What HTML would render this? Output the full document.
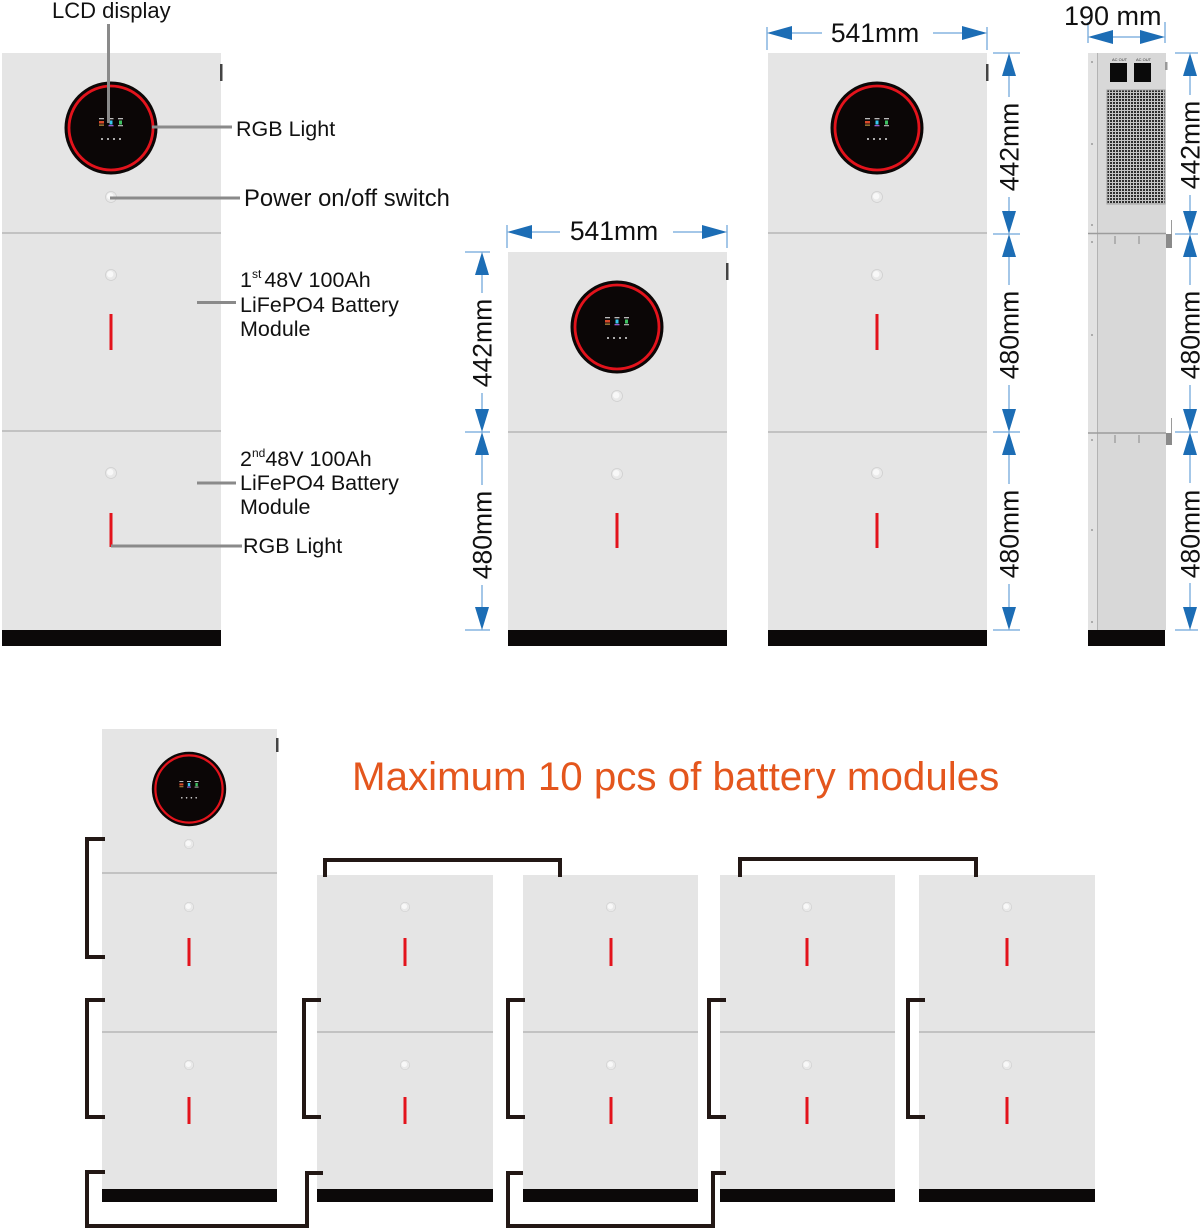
<!DOCTYPE html>
<html><head><meta charset="utf-8"><style>
html,body{margin:0;padding:0;background:#fff;}
svg{display:block;}
text{font-family:"Liberation Sans",Arial,sans-serif;}
</style></head><body>
<svg width="1200" height="1229" viewBox="0 0 1200 1229" xmlns="http://www.w3.org/2000/svg">
<defs>
  <g id="lcd">
    <circle r="46.5" fill="#0b0606"/>
    <circle r="42" fill="none" stroke="#e3131c" stroke-width="2.8"/>
    <rect x="-12" y="-10" width="5" height="1.3" fill="#bbb"/>
    <rect x="-12" y="-7" width="5" height="2.5" fill="#d84a2a"/>
    <rect x="-12" y="-3.5" width="5" height="1.3" fill="#b08a40"/>
    <rect x="-2.5" y="-10" width="5" height="1.3" fill="#bbb"/>
    <rect x="-1.5" y="-7.5" width="3" height="4" fill="#35c8f0"/>
    <rect x="-2.5" y="-3" width="5" height="1.3" fill="#9a60d0"/>
    <rect x="7" y="-10" width="5" height="1.3" fill="#bbb"/>
    <rect x="8" y="-7.5" width="3" height="4" fill="#3ec060"/>
    <rect x="7" y="-3" width="5" height="1.3" fill="#aaa"/>
    <circle cx="-9" cy="11" r="1" fill="#ddd"/>
    <circle cx="-3" cy="11" r="1" fill="#ddd"/>
    <circle cx="3" cy="11" r="1" fill="#ddd"/>
    <circle cx="9" cy="11" r="1" fill="#ddd"/>
  </g>
  <g id="btn">
    <circle r="5.5" fill="#e9e9e9" stroke="#cfcfcf" stroke-width="0.8"/>
    <circle cx="-0.8" cy="-0.8" r="3.2" fill="#f8f8f8"/>
  </g>
  <pattern id="mesh" width="3" height="3" patternUnits="userSpaceOnUse">
    <rect width="3" height="3" fill="#c4c4c4"/>
    <rect width="2" height="2" fill="#2e2e2e"/>
  </pattern>
</defs>

<!-- ========== UNIT 1 (labelled) ========== -->
<rect x="2" y="53" width="219" height="577" fill="#e5e5e5"/>
<rect x="2" y="630" width="219" height="16" fill="#0c0909"/>
<line x1="2" y1="233" x2="221" y2="233" stroke="#b6b6b6" stroke-width="1.6"/>
<line x1="2" y1="431" x2="221" y2="431" stroke="#b6b6b6" stroke-width="1.6"/>
<rect x="220" y="64" width="2.5" height="17" fill="#444"/>
<use href="#lcd" transform="translate(111,128)"/>
<use href="#btn" transform="translate(111,197)"/>
<use href="#btn" transform="translate(111,275)"/>
<use href="#btn" transform="translate(111,473)"/>
<line x1="111" y1="314" x2="111" y2="350" stroke="#e3131c" stroke-width="3"/>
<line x1="111" y1="513" x2="111" y2="547" stroke="#e3131c" stroke-width="3"/>

<!-- leaders -->
<g stroke="#8a8a8a" stroke-width="3">
  <line x1="108.5" y1="24" x2="108.5" y2="123"/>
  <line x1="152" y1="127" x2="232" y2="127"/>
  <line x1="110" y1="198" x2="240" y2="198"/>
  <line x1="197" y1="302.5" x2="236" y2="302.5"/>
  <line x1="197" y1="483" x2="236" y2="483"/>
  <line x1="111" y1="546" x2="242" y2="546"/>
</g>
<g fill="#111">
  <text x="52" y="18" font-size="22">LCD display</text>
  <text x="236" y="136" font-size="21.5">RGB Light</text>
  <text x="244" y="206" font-size="23.8">Power on/off switch</text>
  <text x="240" y="287" font-size="21.5">1<tspan font-size="12" dy="-9">st</tspan><tspan dy="9" dx="3">48V 100Ah</tspan></text>
  <text x="240" y="312" font-size="21.5">LiFePO4 Battery</text>
  <text x="240" y="336" font-size="21.5">Module</text>
  <text x="240" y="466" font-size="21.5">2<tspan font-size="12" dy="-9">nd</tspan><tspan dy="9">48V 100Ah</tspan></text>
  <text x="240" y="490" font-size="21.5">LiFePO4 Battery</text>
  <text x="240" y="514" font-size="21.5">Module</text>
  <text x="243" y="553" font-size="21.5">RGB Light</text>
</g>

<!-- ========== UNIT 2 (middle, short) ========== -->
<rect x="508" y="252" width="219" height="378" fill="#e5e5e5"/>
<rect x="508" y="630" width="219" height="16" fill="#0c0909"/>
<line x1="508" y1="432" x2="727" y2="432" stroke="#b6b6b6" stroke-width="1.6"/>
<rect x="726" y="263" width="2.5" height="17" fill="#444"/>
<use href="#lcd" transform="translate(617,327)"/>
<use href="#btn" transform="translate(617,396)"/>
<use href="#btn" transform="translate(617,474)"/>
<line x1="617" y1="513" x2="617" y2="548" stroke="#e3131c" stroke-width="3"/>

<!-- ========== UNIT 3 (right front) ========== -->
<rect x="768" y="53" width="219" height="577" fill="#e5e5e5"/>
<rect x="768" y="630" width="219" height="16" fill="#0c0909"/>
<line x1="768" y1="233" x2="987" y2="233" stroke="#b6b6b6" stroke-width="1.6"/>
<line x1="768" y1="432" x2="987" y2="432" stroke="#b6b6b6" stroke-width="1.6"/>
<rect x="986" y="64" width="2.5" height="17" fill="#444"/>
<use href="#lcd" transform="translate(877,128)"/>
<use href="#btn" transform="translate(877,197)"/>
<use href="#btn" transform="translate(877,275)"/>
<use href="#btn" transform="translate(877,473)"/>
<line x1="877" y1="314" x2="877" y2="350" stroke="#e3131c" stroke-width="3"/>
<line x1="877" y1="513" x2="877" y2="548" stroke="#e3131c" stroke-width="3"/>

<!-- ========== SIDE VIEW ========== -->
<rect x="1088" y="53" width="78" height="577" fill="#d8d8d8"/>
<rect x="1088" y="53" width="9" height="577" fill="#e2e2e2"/>
<line x1="1097.5" y1="53" x2="1097.5" y2="630" stroke="#b3b3b3" stroke-width="1"/>
<g fill="#9a9a9a">
  <circle cx="1092" cy="62" r="1"/><circle cx="1092" cy="144" r="1"/>
  <circle cx="1092" cy="225" r="1"/><circle cx="1092" cy="242" r="1"/>
  <circle cx="1092" cy="335" r="1"/><circle cx="1092" cy="440" r="1"/>
  <circle cx="1092" cy="530" r="1"/><circle cx="1092" cy="622" r="1"/>
</g>
<rect x="1110" y="63" width="17" height="19" fill="#0a0a0a"/>
<rect x="1134" y="63" width="17" height="19" fill="#0a0a0a"/>
<text x="1112" y="61" font-size="4" fill="#333">AC OUT</text>
<text x="1136" y="61" font-size="4" fill="#333">AC OUT</text>
<rect x="1107" y="90" width="58" height="114" fill="url(#mesh)" stroke="#a0a0a0" stroke-width="1"/>
<rect x="1165" y="62" width="2.5" height="8" fill="#999"/>
<line x1="1088" y1="233.5" x2="1166" y2="233.5" stroke="#9c9c9c" stroke-width="1.5"/>
<line x1="1088" y1="433" x2="1166" y2="433" stroke="#9c9c9c" stroke-width="1.5"/>
<g fill="#b0b0b0">
  <rect x="1114" y="236" width="2" height="8"/><rect x="1138" y="236" width="2" height="8"/>
  <rect x="1114" y="435" width="2" height="8"/><rect x="1138" y="435" width="2" height="8"/>
</g>
<rect x="1166" y="234" width="6" height="14" fill="#8a8a8a"/>
<line x1="1171.5" y1="220" x2="1171.5" y2="234" stroke="#9a9a9a" stroke-width="1"/>
<rect x="1166" y="433" width="6" height="12" fill="#8a8a8a"/>
<line x1="1171.5" y1="418" x2="1171.5" y2="433" stroke="#9a9a9a" stroke-width="1"/>
<rect x="1088" y="630" width="77" height="16" fill="#0c0909"/>

<!-- ========== DIMENSIONS ========== -->
<g stroke="#4a8fd0" stroke-width="1" fill="none">
  <line x1="507" y1="225" x2="507" y2="248"/><line x1="727" y1="225" x2="727" y2="248"/>
  <line x1="530" y1="232" x2="560" y2="232"/><line x1="673" y1="232" x2="704" y2="232"/>
  <line x1="767" y1="27" x2="767" y2="50"/><line x1="987" y1="27" x2="987" y2="50"/>
  <line x1="791" y1="33" x2="822" y2="33"/><line x1="933" y1="33" x2="963" y2="33"/>
  <line x1="1088" y1="22" x2="1088" y2="43"/><line x1="1165" y1="22" x2="1165" y2="43"/>
  <line x1="1112" y1="37" x2="1141" y2="37"/>
  <line x1="465" y1="252" x2="490" y2="252"/><line x1="465" y1="432" x2="490" y2="432"/><line x1="465" y1="630" x2="490" y2="630"/>
  <line x1="482" y1="274" x2="482" y2="293"/><line x1="482" y1="393" x2="482" y2="410"/>
  <line x1="482" y1="454" x2="482" y2="485"/><line x1="482" y1="585" x2="482" y2="608"/>
  <line x1="993" y1="53" x2="1020" y2="53"/><line x1="993" y1="234" x2="1020" y2="234"/>
  <line x1="993" y1="432" x2="1020" y2="432"/><line x1="993" y1="630" x2="1020" y2="630"/>
  <line x1="1009" y1="75" x2="1009" y2="97"/><line x1="1009" y1="197" x2="1009" y2="212"/>
  <line x1="1009" y1="256" x2="1009" y2="285"/><line x1="1009" y1="385" x2="1009" y2="410"/>
  <line x1="1009" y1="454" x2="1009" y2="484"/><line x1="1009" y1="584" x2="1009" y2="608"/>
  <line x1="1175" y1="53" x2="1198" y2="53"/><line x1="1175" y1="234" x2="1198" y2="234"/>
  <line x1="1175" y1="432" x2="1198" y2="432"/><line x1="1175" y1="630" x2="1198" y2="630"/>
  <line x1="1190" y1="75" x2="1190" y2="95"/><line x1="1190" y1="195" x2="1190" y2="212"/>
  <line x1="1190" y1="256" x2="1190" y2="285"/><line x1="1190" y1="385" x2="1190" y2="410"/>
  <line x1="1190" y1="454" x2="1190" y2="483"/><line x1="1190" y1="583" x2="1190" y2="608"/>
</g>
<g fill="#1c6db5">
  <polygon points="507,232 532,225 532,239"/><polygon points="727,232 702,225 702,239"/>
  <polygon points="767,33 792,26 792,40"/><polygon points="987,33 962,26 962,40"/>
  <polygon points="1088,37 1113,30 1113,44"/><polygon points="1165,37 1140,30 1140,44"/>
  <polygon points="482,252 475,275 489,275"/><polygon points="482,432 475,409 489,409"/>
  <polygon points="482,432 475,455 489,455"/><polygon points="482,630 475,607 489,607"/>
  <polygon points="1009,53 1002,76 1016,76"/><polygon points="1009,234 1002,211 1016,211"/>
  <polygon points="1009,234 1002,257 1016,257"/><polygon points="1009,432 1002,409 1016,409"/>
  <polygon points="1009,432 1002,455 1016,455"/><polygon points="1009,630 1002,607 1016,607"/>
  <polygon points="1190,53 1183,76 1197,76"/><polygon points="1190,234 1183,211 1197,211"/>
  <polygon points="1190,234 1183,257 1197,257"/><polygon points="1190,432 1183,409 1197,409"/>
  <polygon points="1190,432 1183,455 1197,455"/><polygon points="1190,630 1183,607 1197,607"/>
</g>
<g fill="#111" font-size="26.5">
  <text x="614" y="240" text-anchor="middle">541mm</text>
  <text x="875" y="42" text-anchor="middle">541mm</text>
  <text x="1064" y="25" font-size="27">190 mm</text>
  <text transform="translate(482,343) rotate(-90)" y="9.5" text-anchor="middle">442mm</text>
  <text transform="translate(482,535) rotate(-90)" y="9.5" text-anchor="middle">480mm</text>
  <text transform="translate(1009,147) rotate(-90)" y="9.5" text-anchor="middle">442mm</text>
  <text transform="translate(1009,335) rotate(-90)" y="9.5" text-anchor="middle">480mm</text>
  <text transform="translate(1009,534) rotate(-90)" y="9.5" text-anchor="middle">480mm</text>
  <text transform="translate(1190,145) rotate(-90)" y="9.5" text-anchor="middle">442mm</text>
  <text transform="translate(1190,335) rotate(-90)" y="9.5" text-anchor="middle">480mm</text>
  <text transform="translate(1190,534) rotate(-90)" y="9.5" text-anchor="middle">480mm</text>
</g>

<!-- ========== BOTTOM SECTION ========== -->
<text x="352" y="790" font-size="40.3" fill="#e4561d">Maximum 10 pcs of battery modules</text>

<rect x="102" y="729" width="175" height="460" fill="#e5e5e5"/>
<rect x="102" y="1189" width="175" height="13" fill="#0c0909"/>
<line x1="102" y1="873" x2="277" y2="873" stroke="#b6b6b6" stroke-width="1.5"/>
<line x1="102" y1="1032" x2="277" y2="1032" stroke="#b6b6b6" stroke-width="1.5"/>
<rect x="276" y="738" width="2.5" height="14" fill="#444"/>
<use href="#lcd" transform="translate(189,789) scale(0.8)"/>
<use href="#btn" transform="translate(189,844) scale(0.85)"/>
<use href="#btn" transform="translate(189,907) scale(0.85)"/>
<use href="#btn" transform="translate(189,1065) scale(0.85)"/>
<line x1="189" y1="938" x2="189" y2="966" stroke="#e3131c" stroke-width="3"/>
<line x1="189" y1="1097" x2="189" y2="1124" stroke="#e3131c" stroke-width="3"/>

<rect x="317" y="875" width="176" height="314" fill="#e5e5e5"/>
<rect x="317" y="1189" width="176" height="13" fill="#0c0909"/>
<line x1="317" y1="1032" x2="493" y2="1032" stroke="#b6b6b6" stroke-width="1.5"/>
<use href="#btn" transform="translate(405,907) scale(0.85)"/>
<use href="#btn" transform="translate(405,1065) scale(0.85)"/>
<line x1="405" y1="938" x2="405" y2="966" stroke="#e3131c" stroke-width="3"/>
<line x1="405" y1="1097" x2="405" y2="1124" stroke="#e3131c" stroke-width="3"/>

<rect x="523" y="875" width="175" height="314" fill="#e5e5e5"/>
<rect x="523" y="1189" width="175" height="13" fill="#0c0909"/>
<line x1="523" y1="1032" x2="698" y2="1032" stroke="#b6b6b6" stroke-width="1.5"/>
<use href="#btn" transform="translate(611,907) scale(0.85)"/>
<use href="#btn" transform="translate(611,1065) scale(0.85)"/>
<line x1="611" y1="938" x2="611" y2="966" stroke="#e3131c" stroke-width="3"/>
<line x1="611" y1="1097" x2="611" y2="1124" stroke="#e3131c" stroke-width="3"/>

<rect x="720" y="875" width="175" height="314" fill="#e5e5e5"/>
<rect x="720" y="1189" width="175" height="13" fill="#0c0909"/>
<line x1="720" y1="1032" x2="895" y2="1032" stroke="#b6b6b6" stroke-width="1.5"/>
<use href="#btn" transform="translate(807,907) scale(0.85)"/>
<use href="#btn" transform="translate(807,1065) scale(0.85)"/>
<line x1="807" y1="938" x2="807" y2="966" stroke="#e3131c" stroke-width="3"/>
<line x1="807" y1="1097" x2="807" y2="1124" stroke="#e3131c" stroke-width="3"/>

<rect x="919" y="875" width="176" height="314" fill="#e5e5e5"/>
<rect x="919" y="1189" width="176" height="13" fill="#0c0909"/>
<line x1="919" y1="1032" x2="1095" y2="1032" stroke="#b6b6b6" stroke-width="1.5"/>
<use href="#btn" transform="translate(1007,907) scale(0.85)"/>
<use href="#btn" transform="translate(1007,1065) scale(0.85)"/>
<line x1="1007" y1="938" x2="1007" y2="966" stroke="#e3131c" stroke-width="3"/>
<line x1="1007" y1="1097" x2="1007" y2="1124" stroke="#e3131c" stroke-width="3"/>

<g fill="none" stroke="#231815" stroke-width="4" stroke-linejoin="miter" stroke-linecap="butt">
  <path d="M105,839 H87 V957 H105"/>
  <path d="M105,1000 H87 V1117 H105"/>
  <path d="M105,1172 H87 V1226 H307 V1173 H323"/>
  <path d="M325,877 V860 H560 V877"/>
  <path d="M321,1000 H304 V1117 H321"/>
  <path d="M525,1000 H508 V1117 H525"/>
  <path d="M523,1173 H508 V1226 H713 V1173 H726"/>
  <path d="M740,877 V859 H976 V877"/>
  <path d="M726,1000 H709 V1117 H726"/>
  <path d="M925,1000 H908 V1117 H925"/>
</g>
</svg>
</body></html>
